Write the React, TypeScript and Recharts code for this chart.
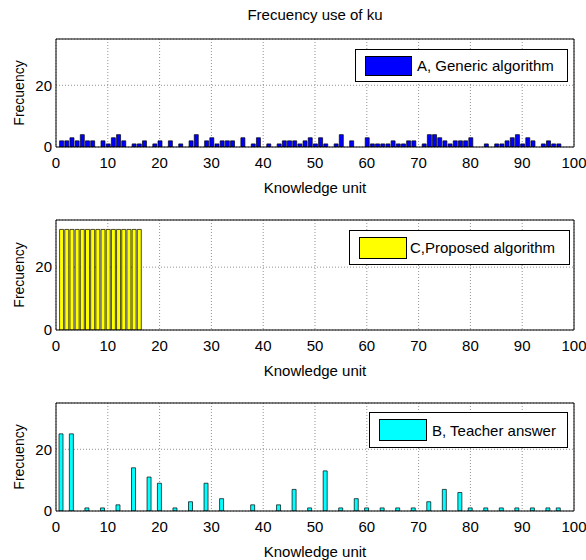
import { BarChart, Bar, XAxis, YAxis, CartesianGrid, Legend } from "recharts";

// axis ticks
const kuTicks = [0, 10, 20, 30, 40, 50, 60, 70, 80, 90, 100];
const freqTicks = [0, 20];

// A, Generic algorithm
const unitsA = [
  1, 2, 3, 4, 5, 6, 7, 9, 10, 11, 12, 13, 15, 16, 17, 19, 20, 22, 24, 26, 27, 29, 30, 31, 32, 33, 34, 36, 38, 39,
  41, 43, 44, 45, 46, 47, 48, 49, 50, 51, 52, 54, 55, 57, 60, 61, 62, 63, 64, 65, 66, 67, 68, 69, 71, 72, 73, 74,
  75, 76, 77, 78, 79, 80, 83, 85, 86, 87, 88, 89, 90, 91, 92, 94, 95, 96, 97,
];
const freqA = [
  2, 2, 3, 2, 4, 2, 2, 2, 1, 3, 4, 2, 1, 1, 2, 1, 2, 2, 1, 2, 4, 2, 3, 1, 2, 2, 2, 3, 1, 3,
  1, 1, 2, 2, 2, 1, 2, 3, 1, 3, 1, 1, 4, 2, 3, 1, 1, 1, 1, 2, 1, 1, 2, 2, 1, 4, 4, 3,
  2, 1, 2, 2, 2, 3, 1, 1, 1, 2, 3, 4, 1, 3, 2, 1, 2, 1, 1,
];

// C, Proposed algorithm
const unitsC = [1, 2, 3, 4, 5, 6, 7, 8, 9, 10, 11, 12, 13, 14, 15, 16];
const freqC = [32, 32, 32, 32, 32, 32, 32, 32, 32, 32, 32, 32, 32, 32, 32, 32];

// B, Teacher answer
const unitsB = [
  1, 3, 6, 9, 12, 15, 18, 20, 23, 26, 29, 32, 38, 43, 46, 49, 52, 55, 58, 60, 63, 66, 69, 72, 75, 78, 80, 83, 86,
  89, 92, 95, 97,
];
const freqB = [
  25, 25, 1, 1, 2, 14, 11, 9, 1, 3, 9, 4, 2, 2, 7, 1, 13, 1, 4, 1, 1, 1, 1, 3, 7, 6, 1, 1, 1, 1, 1, 1, 1,
];

const toRows = (units: number[], freq: number[]) => units.map((ku, i) => ({ ku, freq: freq[i] }));

const FONT = "'Liberation Sans', Arial, Helvetica, sans-serif";

interface LegendBoxProps {
  left: number;
  top: number;
  width: number;
  height: number;
  patchW: number;
  patchH: number;
  gap: number;
}

interface PanelProps {
  rows: { ku: number; freq: number }[];
  color: string;
  name: string;
  top: number;
  height: number;
  plotTop: number;
  plotHeight: number;
  box: LegendBoxProps;
}

function Panel({ rows, color, name, top, height, plotTop, plotHeight, box }: PanelProps) {
  const xAxisHeight = height - plotTop - plotHeight;
  return (
    <div style={{ position: "absolute", left: 0, top }}>
      <BarChart
        width={586}
        height={height}
        data={rows}
        margin={{ top: plotTop, right: 12, bottom: 0, left: 14 }}
      >
        <CartesianGrid stroke="#777" strokeDasharray="1 2" strokeWidth={0.8} />
        <Bar
          dataKey="freq"
          name={name}
          fill={color}
          stroke="#000"
          strokeWidth={0.7}
          barSize={4}
          isAnimationActive={false}
        />
        <XAxis
          dataKey="ku"
          type="number"
          domain={[0, 100]}
          ticks={kuTicks}
          interval={0}
          allowDataOverflow
          height={xAxisHeight}
          tickLine={false}
          tickSize={4}
          tickMargin={6}
          axisLine={{ stroke: "#000" }}
          tick={{ fill: "#000", fontSize: 15 }}
          label={{ value: "Knowledge unit", position: "insideTop", offset: 35, fill: "#000", fontSize: 15 }}
        />
        <XAxis
          xAxisId="top"
          orientation="top"
          mirror
          type="number"
          domain={[0, 100]}
          ticks={kuTicks}
          interval={0}
          allowDataOverflow
          tick={false}
          tickSize={4}
          tickLine={{ stroke: "#000" }}
          axisLine={{ stroke: "#000" }}
        />
        <XAxis
          xAxisId="inner"
          orientation="bottom"
          mirror
          type="number"
          domain={[0, 100]}
          ticks={kuTicks}
          interval={0}
          allowDataOverflow
          tick={false}
          tickSize={4}
          tickLine={{ stroke: "#000" }}
          axisLine={false}
        />
        <YAxis
          type="number"
          domain={[0, 35]}
          ticks={freqTicks}
          interval={0}
          allowDataOverflow
          width={42}
          tickLine={false}
          tickSize={3}
          tickMargin={1}
          axisLine={{ stroke: "#000" }}
          tick={{ fill: "#000", fontSize: 15 }}
          label={{ value: "Frecuency", angle: -90, position: "center", dx: -16, fill: "#000", fontSize: 14 }}
        />
        <YAxis
          yAxisId="right"
          orientation="right"
          mirror
          type="number"
          domain={[0, 35]}
          ticks={freqTicks}
          interval={0}
          allowDataOverflow
          tick={false}
          tickSize={4}
          tickLine={{ stroke: "#000" }}
          axisLine={{ stroke: "#000" }}
        />
        <YAxis
          yAxisId="inner"
          orientation="left"
          mirror
          type="number"
          domain={[0, 35]}
          ticks={freqTicks}
          interval={0}
          allowDataOverflow
          tick={false}
          tickSize={4}
          tickLine={{ stroke: "#000" }}
          axisLine={false}
        />
        <Legend
          layout="horizontal"
          align="center"
          verticalAlign="middle"
          wrapperStyle={{ left: box.left, top: box.top, width: box.width, height: box.height }}
          content={() => (
            <div
              style={{
                boxSizing: "border-box",
                width: box.width,
                height: box.height,
                border: "1px solid #000",
                background: "#fff",
                display: "flex",
                alignItems: "center",
                paddingLeft: 9,
                fontFamily: FONT,
              }}
            >
              <span
                style={{
                  display: "inline-block",
                  boxSizing: "border-box",
                  width: box.patchW,
                  height: box.patchH,
                  background: color,
                  border: "1px solid #000",
                  marginRight: box.gap,
                }}
              />
              <span style={{ fontSize: 15, color: "#000", whiteSpace: "nowrap" }}>{name}</span>
            </div>
          )}
        />
      </BarChart>
    </div>
  );
}

export default function App() {
  return (
    <div
      style={{
        position: "absolute",
        left: 0,
        top: 0,
        width: 586,
        height: 560,
        background: "#fff",
        fontFamily: FONT,
        overflow: "hidden",
      }}
    >
      <div
        style={{
          position: "absolute",
          left: 56,
          width: 518,
          top: 7,
          textAlign: "center",
          fontSize: 15,
          lineHeight: "16px",
          color: "#000",
        }}
      >
        Frecuency use of ku
      </div>
      <Panel
        rows={toRows(unitsA, freqA)}
        color="#0000ff"
        name="A, Generic algorithm"
        top={0}
        height={200}
        plotTop={39}
        plotHeight={108}
        box={{ left: 355, top: 49, width: 213, height: 33, patchW: 47, patchH: 20, gap: 5 }}
      />
      <Panel
        rows={toRows(unitsC, freqC)}
        color="#ffff00"
        name="C,Proposed algorithm"
        top={200}
        height={190}
        plotTop={20}
        plotHeight={110}
        box={{ left: 349, top: 30, width: 221, height: 35, patchW: 48, patchH: 22, gap: 3 }}
      />
      <Panel
        rows={toRows(unitsB, freqB)}
        color="#00ffff"
        name="B, Teacher answer"
        top={390}
        height={170}
        plotTop={13}
        plotHeight={108}
        box={{ left: 369, top: 22, width: 199, height: 36, patchW: 48, patchH: 22, gap: 5 }}
      />
    </div>
  );
}
